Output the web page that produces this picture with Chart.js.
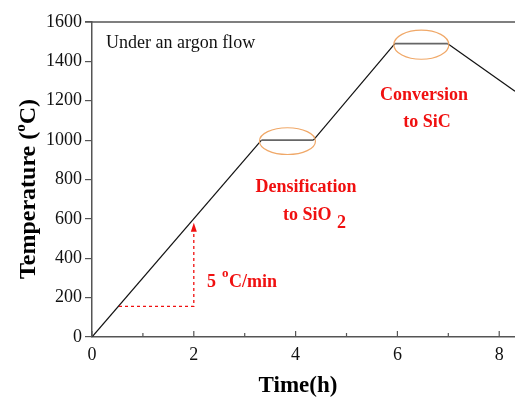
<!DOCTYPE html>
<html><head><meta charset="utf-8">
<script src="https://cdn.jsdelivr.net/npm/chart.js@4/dist/chart.umd.min.js"></script>
<style>html,body{margin:0;padding:0;background:#fff}#wrap{width:515px;height:397px}</style>
</head><body><div id="wrap"><canvas id="c" width="515" height="397"></canvas></div>
<script>
const timeH = [0, 3.33, 4.35, 5.95, 6.99, 8.31];
const tempC = [0, 1000, 1000, 1490, 1490, 1248];
const xTickLabels = [0, 2, 4, 6, 8];
const yTickValues = [0, 200, 400, 600, 800, 1000, 1200, 1400, 1600];
const rampBase = {x0: 0.53, x1: 2, y: 156, yTop: 580};
const plateau1 = {x: 3.84, y: 1000, rxH: 0.55, ryT: 68};
const plateau2 = {x: 6.47, y: 1490, rxH: 0.54, ryT: 74};

const SERIF = '"Liberation Serif", "Times New Roman", serif';
const RED = '#f01010';
const points = timeH.map((t, i) => ({x: t, y: tempC[i]}));

const overlay = {
  id: 'overlay',
  afterDraw(chart) {
    const {ctx, chartArea: a, scales: {x, y}} = chart;
    ctx.save();
    // top border
    ctx.strokeStyle = '#555'; ctx.lineWidth = 1.5;
    ctx.beginPath(); ctx.moveTo(a.left - 7, a.top); ctx.lineTo(a.right, a.top); ctx.stroke();
    // inside x ticks
    ctx.lineWidth = 1.2;
    for (let v = 0; v <= 8; v++) {
      const px = x.getPixelForValue(v);
      const len = v % 2 === 0 ? 6 : 4;
      ctx.beginPath(); ctx.moveTo(px, a.bottom); ctx.lineTo(px, a.bottom - len); ctx.stroke();
    }
    // ellipses
    ctx.strokeStyle = '#f0a868'; ctx.lineWidth = 1.2;
    [plateau1, plateau2].forEach(p => {
      const cx = x.getPixelForValue(p.x), cy = y.getPixelForValue(p.y);
      const rx = x.getPixelForValue(p.x + p.rxH) - cx;
      const ry = y.getPixelForValue(p.y) - y.getPixelForValue(p.y + p.ryT);
      ctx.beginPath(); ctx.ellipse(cx, cy + 1, rx, ry, 0, 0, Math.PI * 2); ctx.stroke();
    });
    // dashed ramp indicator
    ctx.strokeStyle = RED; ctx.fillStyle = RED; ctx.lineWidth = 1.3;
    ctx.setLineDash([3, 3]);
    const bx0 = x.getPixelForValue(rampBase.x0), bx1 = x.getPixelForValue(rampBase.x1);
    const by = y.getPixelForValue(rampBase.y), byt = y.getPixelForValue(rampBase.yTop);
    ctx.beginPath(); ctx.moveTo(bx0, by); ctx.lineTo(bx1, by); ctx.lineTo(bx1, byt + 6); ctx.stroke();
    ctx.setLineDash([]);
    ctx.beginPath(); ctx.moveTo(bx1, byt); ctx.lineTo(bx1 - 3, byt + 9); ctx.lineTo(bx1 + 3, byt + 9); ctx.closePath(); ctx.fill();
    // texts
    ctx.textBaseline = 'alphabetic';
    ctx.fillStyle = '#111'; ctx.font = '18px ' + SERIF; ctx.textAlign = 'left';
    ctx.fillText('Under an argon flow', 106, 48);
    ctx.fillStyle = RED; ctx.font = 'bold 18px ' + SERIF;
    ctx.textAlign = 'center';
    ctx.fillText('Conversion', 424, 100);
    ctx.fillText('to SiC', 427, 127);
    ctx.fillText('Densification', 306, 192);
    ctx.textAlign = 'left';
    ctx.fillText('to SiO', 283, 220);
    ctx.fillText('2', 337, 228);
    ctx.fillText('5', 207, 287);
    ctx.font = 'bold 13px ' + SERIF; ctx.fillText('o', 222, 277);
    ctx.font = 'bold 18px ' + SERIF; ctx.fillText('C/min', 229, 287);
    // axis titles
    ctx.fillStyle = '#000';
    ctx.font = 'bold 23px ' + SERIF; ctx.textAlign = 'center';
    ctx.fillText('Time(h)', 298, 392);
    ctx.save();
    ctx.translate(35, 189); ctx.rotate(-Math.PI / 2);
    ctx.textAlign = 'left';
    const main = 'Temperature (', tail = 'C)';
    ctx.font = 'bold 24px ' + SERIF;
    const w1 = ctx.measureText(main).width;
    ctx.font = 'bold 15px ' + SERIF;
    const wo = ctx.measureText('o').width;
    ctx.font = 'bold 24px ' + SERIF;
    const w2 = ctx.measureText(tail).width;
    let sx = -(w1 + wo + w2) / 2;
    ctx.fillText(main, sx, 0); sx += w1;
    ctx.font = 'bold 15px ' + SERIF; ctx.fillText('o', sx, -10); sx += wo;
    ctx.font = 'bold 24px ' + SERIF; ctx.fillText(tail, sx, 0);
    ctx.restore();
    ctx.restore();
  }
};

new Chart(document.getElementById('c'), {
  type: 'scatter',
  data: {datasets: [{
    data: points, showLine: true, borderColor: '#111', borderWidth: 1.2,
    pointRadius: 0, tension: 0,
    segment: {borderColor: c => (c.p0.parsed.y === c.p1.parsed.y ? '#666' : '#111'),
              borderWidth: c => (c.p0.parsed.y === c.p1.parsed.y ? 1.6 : 1.2)}
  }]},
  options: {
    responsive: false, animation: false, devicePixelRatio: 1,
    layout: {padding: {left: 0, top: 22, right: 0, bottom: 0}},
    plugins: {legend: {display: false}, tooltip: {enabled: false}},
    scales: {
      x: {
        type: 'linear', min: 0, max: 8.31,
        afterFit: s => { s.height = 60; },
        afterBuildTicks: s => { s.ticks = xTickLabels.map(v => ({value: v})); },
        border: {color: '#555', width: 1.5},
        grid: {display: false, drawTicks: false},
        ticks: {padding: 7, color: '#111', font: {family: SERIF, size: 18}, maxRotation: 0, autoSkip: false,
                callback: v => String(v)}
      },
      y: {
        type: 'linear', min: 0, max: 1600,
        afterFit: s => { s.width = 92; },
        afterBuildTicks: s => { s.ticks = yTickValues.map(v => ({value: v})); },
        border: {color: '#555', width: 1.5},
        grid: {drawOnChartArea: false, drawTicks: true, tickLength: 7, color: '#555', lineWidth: 1.2},
        ticks: {padding: 3, color: '#111', font: {family: SERIF, size: 18}, autoSkip: false,
                callback: v => String(v)}
      }
    }
  },
  plugins: [overlay]
});
</script></body></html>
